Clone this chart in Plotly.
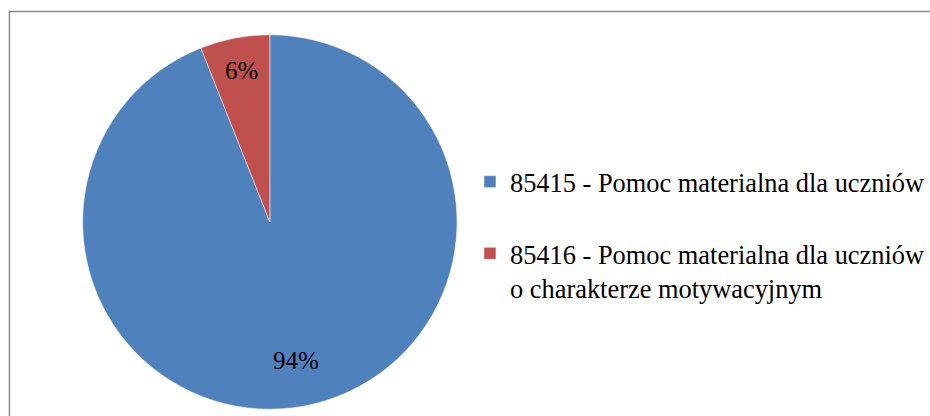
import math
import plotly.graph_objects as go

labels = ["85415 - Pomoc materialna dla uczniów<br> ",
          "85416 - Pomoc materialna dla uczniów<br>o charakterze motywacyjnym"]
values = [94, 6]
colors = ["#4F81BD", "#C0504D"]
label_radius = [0.75, 0.82]

W, H = 930, 416
FONT = "Liberation Serif, Times New Roman, serif"

def px(x):
    return x / W

def py(y):
    return 1 - y / H

cx, cy, R = 271, 222, 188

fig = go.Figure(go.Pie(
    labels=labels,
    values=values,
    sort=False,
    direction="clockwise",
    rotation=0,
    marker=dict(colors=colors, line=dict(color="white", width=0.5)),
    textinfo="none",
    domain=dict(x=[px(cx - R), px(cx + R)], y=[py(cy + R), py(cy - R)]),
    hoverinfo="label+percent",
))

total = sum(values)
cum = 0
for v, rf in zip(values, label_radius):
    mid = (cum + v / 2) / total * 2 * math.pi
    cum += v
    x = cx + rf * R * math.sin(mid)
    y = cy - rf * R * math.cos(mid)
    fig.add_annotation(x=px(x), y=py(y), xref="paper", yref="paper",
                       xanchor="center", yanchor="middle",
                       text=f"{round(100 * v / total)}%", showarrow=False,
                       font=dict(family=FONT, size=25, color="black"))

fig.add_shape(type="rect", xref="paper", yref="paper",
              x0=px(9.5), x1=1.05, y0=-0.05, y1=py(11.5),
              line=dict(color="#8c8c8c", width=1.5))

fig.update_layout(
    width=W, height=H,
    margin=dict(l=0, r=0, t=0, b=0),
    paper_bgcolor="white",
    plot_bgcolor="white",
    font=dict(family=FONT, color="black"),
    legend=dict(
        x=px(472), y=py(235), xanchor="left", yanchor="middle",
        font=dict(family=FONT, size=26.4, color="black"),
        valign="top",
        bgcolor="rgba(0,0,0,0)",
    ),
    showlegend=True,
)

fig.write_html("out.html",
               config={"displayModeBar": False},
               post_script="document.body.style.margin='0';document.body.style.overflow='hidden';")
